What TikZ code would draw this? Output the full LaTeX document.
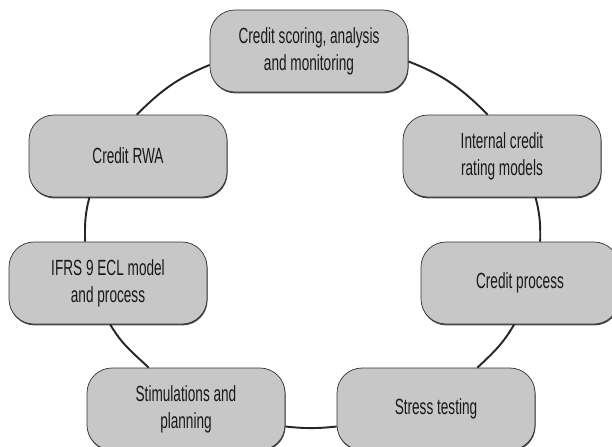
\documentclass[tikz,border=0pt]{standalone}
\usepackage{fontspec}
\setmainfont[FakeStretch=0.62]{Liberation Sans}
\usetikzlibrary{shadows}
\tikzset{
	topic/.style={draw=black!80,fill=black!22,rounded corners=0.5cm,minimum width=3.96cm,minimum height=1.64cm,
		align=center,text=black!90,font=\fontsize{12.5}{15.4}\selectfont,
		drop shadow={shadow xshift=0.3pt,shadow yshift=-0.8pt,fill=black!80,opacity=0.9}},
	link/.style={draw=black!85,line width=1.1pt}
}
\begin{document}
\begin{tikzpicture}
	\useasboundingbox (0,0) rectangle (12.24,-8.92);
	\node[topic] (score) at (6.18,-1.02) {Credit scoring, analysis\\and monitoring};
	\node[topic] (rating) at (10.04,-3.12) {Internal credit\\rating models};
	\node[topic] (process) at (10.40,-5.66) {Credit process};
	\node[topic] (stress) at (8.72,-8.18) {Stress testing};
	\node[topic] (plan) at (3.72,-8.18) {Stimulations and\\planning};
	\node[topic] (ifrs) at (2.16,-5.66) {IFRS 9 ECL model\\and process};
	\node[topic] (rwa) at (2.56,-3.12) {Credit RWA};
	% ring of links, clockwise from the top
	\foreach \a/\sa/\b/\sb/\o/\i in {score/-6/rating/109/-21/135, rating/-51/process/64/-75/89,
		process/-98/stress/45/-120/43, stress/-170/plan/-10/-174/-6, plan/132/ifrs/-87/137/-60,
		ifrs/119/rwa/-133/91/-105, rwa/78/score/-172/45/202}
	{\draw[link] (\a.\sa) to[out=\o,in=\i] (\b.\sb);}
\end{tikzpicture}
\end{document}
